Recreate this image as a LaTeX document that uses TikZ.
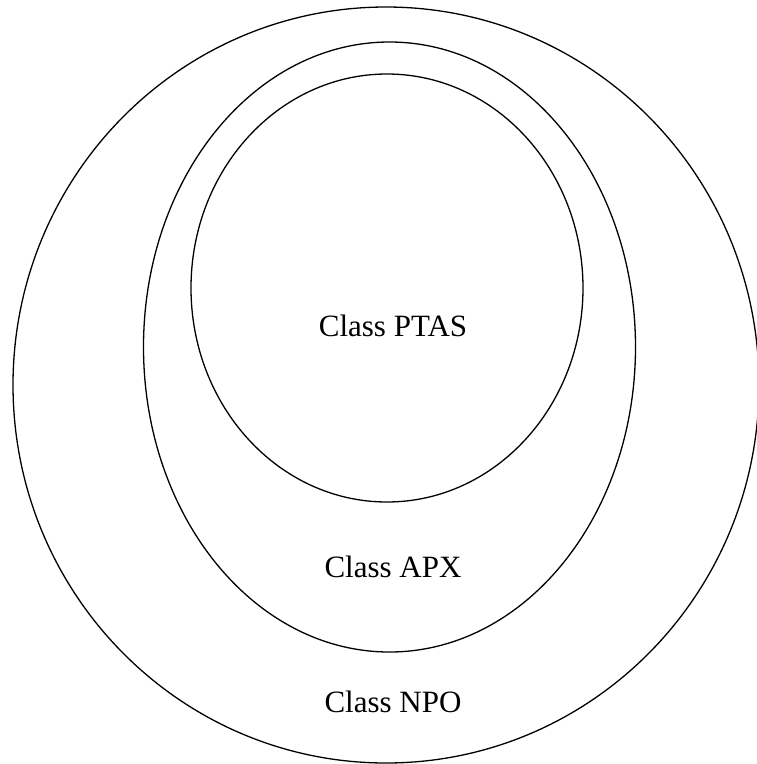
\documentclass[tikz,border=0pt]{standalone}
\usepackage{fontspec}
\setmainfont{Liberation Serif}
\begin{document}
\begin{tikzpicture}[x=1pt,y=-1pt,
  ring/.style={draw=black,line width=1.3pt},
  lbl/.style={font=\fontsize{31}{36}\selectfont,inner sep=0pt}]
\useasboundingbox (0,0) rectangle (757,764);
\draw[ring] (386,385) ellipse [x radius=373, y radius=378];
\draw[ring] (389.5,347) ellipse [x radius=246, y radius=305];
\draw[ring] (387,288) ellipse [x radius=196, y radius=214];
\node[lbl] (ptas) at (393,326) {Class PTAS};
\node[lbl] (apx) at (393,567) {Class APX};
\node[lbl] (npo) at (393,702) {Class NPO};
\end{tikzpicture}
\end{document}
